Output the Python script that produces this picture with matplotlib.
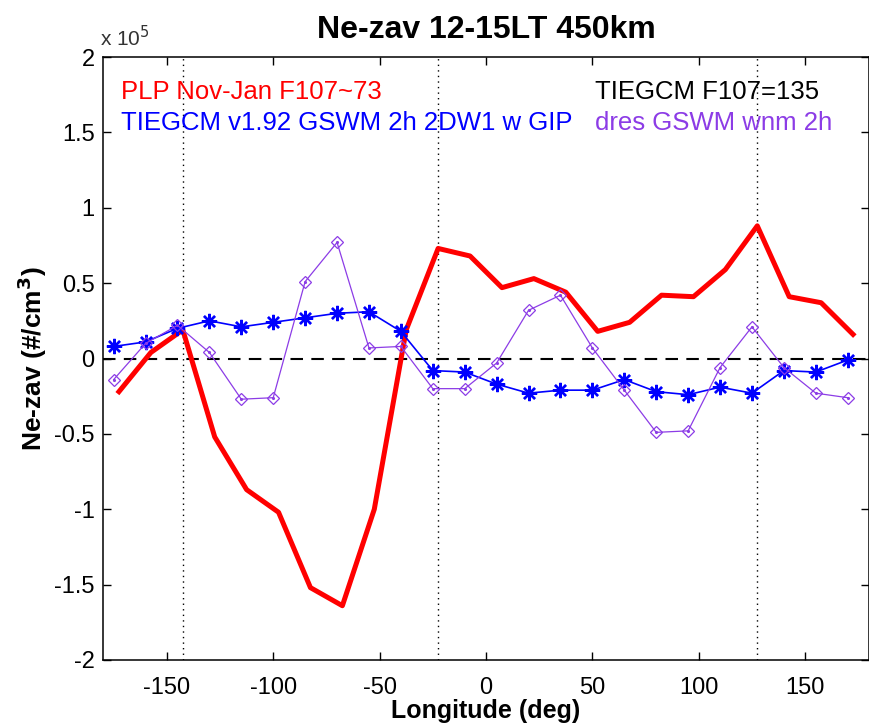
import numpy as np
import matplotlib
matplotlib.use('Agg')
import matplotlib.pyplot as plt

plt.rcParams['font.family'] = ['Liberation Sans', 'DejaVu Sans']
plt.rcParams['axes.unicode_minus'] = False

# ── Data (units of 1e5 #/cm^3) ─────────────────────────────────────
# PLP observations, 15-deg bins centred on -172.5 ... 172.5
plp_lon = np.arange(-172.5, 180, 15)
plp_ne = [-0.22, 0.04, 0.19, -0.52, -0.87, -1.02, -1.52, -1.64,
          -1.00, 0.19, 0.73, 0.68, 0.47, 0.53, 0.44, 0.18,
          0.24, 0.42, 0.41, 0.59, 0.88, 0.41, 0.37, 0.16]

# model output, -175 ... 170
mod_lon = np.arange(-175, 175, 15)
tiegcm_ne = [0.08, 0.11, 0.20, 0.25, 0.21, 0.24, 0.27, 0.30,
             0.31, 0.18, -0.08, -0.09, -0.17, -0.23, -0.21, -0.21,
             -0.14, -0.22, -0.24, -0.19, -0.23, -0.08, -0.09, -0.01]
dres_ne = [-0.14, 0.10, 0.22, 0.04, -0.27, -0.26, 0.51, 0.77,
           0.07, 0.08, -0.20, -0.20, -0.03, 0.32, 0.42, 0.07,
           -0.21, -0.49, -0.48, -0.06, 0.21, -0.06, -0.23, -0.26]

ref_lons = [-142.5, -22.5, 127.5]

PURPLE = '#8c3ce6'

fig = plt.figure(figsize=(8.7, 7.27), dpi=100)
ax = fig.add_axes([103 / 870, 67 / 727, 766 / 870, 603 / 727])

ax.axhline(0, color='k', ls=(0, (6, 4)), lw=1.5, zorder=1)
for lon in ref_lons:
    ax.axvline(lon, color='k', ls=(0, (1, 3)), lw=1.0, zorder=1)

ax.plot(plp_lon, plp_ne, color='red', lw=3.6, zorder=3)
ax.plot(mod_lon, tiegcm_ne, color='blue', lw=1.2, marker=(8, 2, 0),
        ms=11, mew=1.7, zorder=4)
ax.plot(mod_lon, dres_ne, color=PURPLE, lw=0.9, marker='D', ms=6.5,
        mfc='none', mec=PURPLE, mew=0.9, zorder=5)
ax.plot(mod_lon, dres_ne, ls='none', marker='.', ms=2.5, color=PURPLE,
        zorder=5)

ax.set_xlim(-180, 180)
ax.set_ylim(-2, 2)
ax.set_xticks(np.arange(-150, 151, 50))
ax.set_yticks(np.arange(-2, 2.01, 0.5))
ax.set_yticklabels(['-2', '-1.5', '-1', '-0.5', '0', '0.5', '1', '1.5', '2'])
ax.tick_params(direction='in', length=6, width=1, top=True, right=True,
               labelsize=17)
ax.tick_params(axis='x', pad=12)
ax.tick_params(axis='y', pad=6)
for sp in ax.spines.values():
    sp.set_linewidth(1.1)

ax.set_xlabel('Longitude (deg)', fontsize=18, fontweight='bold', labelpad=0)
ax.set_ylabel('Ne-zav (#/cm$^\\mathbf{3}$)', fontsize=19, fontweight='bold',
              labelpad=4)
ax.set_title('Ne-zav 12-15LT 450km', fontsize=23, fontweight='bold', pad=14)

fig.text(100 / 870, 1 - 38 / 727, 'x 10$^{5}$', fontsize=15, va='center',
         ha='left', color='#333333')

tkw = dict(fontsize=18.5, va='center', ha='left')
ax.text(-171.5, 1.77, 'PLP Nov-Jan F107~73', color='red', **tkw)
ax.text(-171.5, 1.565, 'TIEGCM v1.92 GSWM 2h 2DW1 w GIP', color='blue', **tkw)
ax.text(51, 1.77, 'TIEGCM F107=135', color='black', **tkw)
ax.text(51, 1.565, 'dres GSWM wnm 2h', color=PURPLE, **tkw)

fig.savefig('out.png', dpi=100)
